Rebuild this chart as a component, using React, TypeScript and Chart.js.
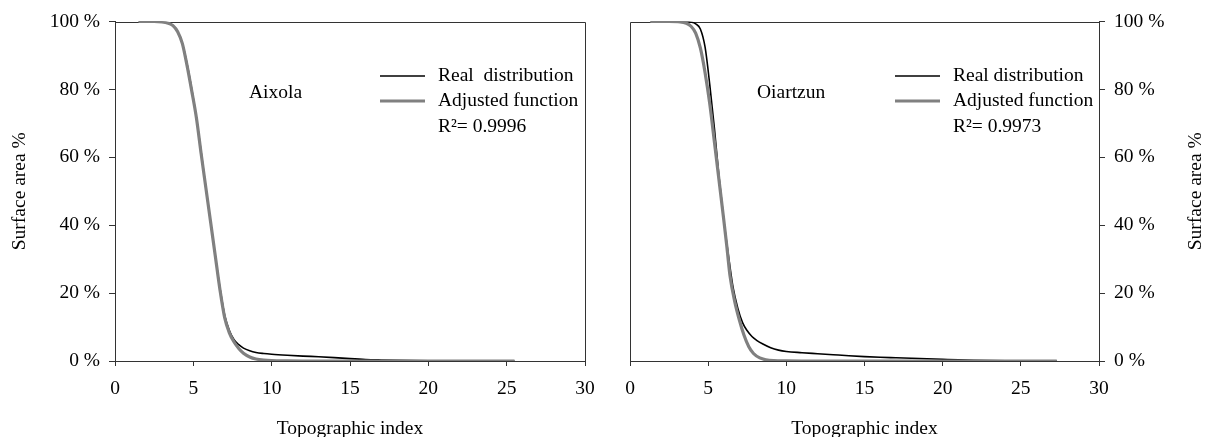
import React, { useEffect, useRef } from "react";
import { Chart, registerables } from "chart.js";

Chart.register(...registerables);

const FONT = "'Liberation Serif', 'Times New Roman', Times, serif";
const FS = 19.5;

// ---- Data (Topographic index, Surface area %) ----
const aixolaRealX = [1.5, 2.5, 3.0, 3.4, 3.7, 4.0, 4.3, 4.6, 4.9, 5.2, 5.5, 5.8, 6.1, 6.4, 6.7, 7.0, 7.3, 7.6, 7.9, 8.2, 8.6, 9.0, 9.5, 10, 11, 12, 13, 14, 15, 16, 17, 18, 20, 22, 25.5];
const aixolaRealY = [100, 100, 99.9, 99.5, 98.8, 97, 93.5, 87.5, 80, 71.5, 61.5, 51, 41, 31, 21.5, 13.5, 9, 6.3, 4.8, 3.8, 3.0, 2.5, 2.2, 2.0, 1.7, 1.45, 1.25, 1.0, 0.7, 0.45, 0.3, 0.18, 0.06, 0.02, 0];
const aixolaFitX = [1.5, 2.5, 3.0, 3.4, 3.7, 4.0, 4.3, 4.6, 4.9, 5.2, 5.5, 5.8, 6.1, 6.4, 6.7, 7.0, 7.3, 7.6, 7.9, 8.2, 8.6, 9.0, 9.5, 10, 11, 12, 25.5];
const aixolaFitY = [100, 100, 99.9, 99.5, 98.8, 97, 93.5, 87, 79.5, 71.5, 61, 51, 41, 31, 21, 12.8, 8.3, 5.6, 3.7, 2.3, 1.2, 0.6, 0.25, 0.1, 0.02, 0, 0];

const oiartzunRealX = [1.3, 2.5, 3.5, 3.9, 4.2, 4.5, 4.8, 5.1, 5.4, 5.7, 6.0, 6.3, 6.6, 6.9, 7.2, 7.5, 7.8, 8.1, 8.5, 9.0, 9.5, 10, 11, 12, 13, 14, 15, 16, 17, 18, 19, 20, 21, 22, 23, 24, 25, 27.3];
const oiartzunRealY = [100, 100, 100, 99.8, 99.3, 97.8, 92.5, 81.5, 68.5, 54, 41.5, 31, 21.5, 15.5, 11.3, 8.9, 7.2, 6.1, 5.0, 3.9, 3.2, 2.8, 2.45, 2.15, 1.85, 1.55, 1.3, 1.1, 0.95, 0.8, 0.65, 0.5, 0.35, 0.22, 0.12, 0.05, 0.02, 0];
const oiartzunFitX = [1.3, 2.5, 3.2, 3.6, 3.9, 4.2, 4.5, 4.8, 5.1, 5.4, 5.7, 6.0, 6.2, 6.4, 6.7, 7.0, 7.3, 7.6, 7.9, 8.3, 8.7, 9.2, 10, 11, 27.3];
const oiartzunFitY = [100, 100, 99.9, 99.5, 98.6, 96.6, 92.2, 85, 75.8, 64.5, 53, 41.5, 33.5, 25, 17.5, 12, 7.5, 4.2, 2.2, 0.9, 0.35, 0.1, 0.02, 0, 0];

// ---- Axes ----
const X_MIN = 0;
const X_MAX = 30;
const X_STEP = 5;
const Y_MIN = 0;
const Y_MAX = 100;
const Y_STEP = 20;

// ---- Texts ----
const X_TITLE = "Topographic index";
const Y_TITLE = "Surface area %";
const SERIES_REAL = "Real distribution";
const SERIES_FIT = "Adjusted function";
const AIXOLA_NAME = "Aixola";
const AIXOLA_REAL_LABEL = "Real  distribution";
const AIXOLA_R2 = "R\u00b2= 0.9996";
const OIARTZUN_NAME = "Oiartzun";
const OIARTZUN_REAL_LABEL = "Real distribution";
const OIARTZUN_R2 = "R\u00b2= 0.9973";

const AXIS_COLOR = "#333333";
const REAL_COLOR = "#000000";
const FIT_COLOR = "#808080";

const toPts = (xs: number[], ys: number[]) => xs.map((x, i) => ({ x, y: ys[i] }));

type PanelOpts = {
  name: string;
  nameDx: number;
  realLabel: string;
  r2: string;
  side: "left" | "right";
  rightTitleX?: number;
};

function annotationPlugin(o: PanelOpts) {
  return {
    id: "panelAnnotations",
    beforeDatasetsDraw(chart: any) {
      const { ctx, chartArea: a } = chart;
      ctx.save();
      ctx.strokeStyle = AXIS_COLOR;
      ctx.lineWidth = 1;
      const l = Math.round(a.left) + 0.5;
      const r = Math.round(a.right) + 0.5;
      const t = Math.round(a.top) + 0.5;
      const b = Math.round(a.bottom) + 0.5;
      ctx.beginPath();
      ctx.moveTo(l, b);
      ctx.lineTo(l, t);
      ctx.lineTo(r, t);
      ctx.lineTo(r, b);
      ctx.stroke();
      ctx.restore();
    },
    afterDraw(chart: any) {
      const { ctx, chartArea: a } = chart;
      ctx.save();
      ctx.font = `${FS}px ${FONT}`;
      ctx.fillStyle = "#000";
      ctx.textBaseline = "middle";
      ctx.textAlign = "left";
      const top = a.top;
      ctx.fillText(o.name, a.left + o.nameDx, top + 71);
      // legend
      const lx0 = a.left + 265;
      const lx1 = a.left + 310;
      const tx = a.left + 323;
      const y1 = top + 54.5;
      const y2 = top + 79.5;
      const y3 = top + 105.5;
      ctx.strokeStyle = REAL_COLOR;
      ctx.lineWidth = 1.6;
      ctx.beginPath();
      ctx.moveTo(lx0, y1);
      ctx.lineTo(lx1, y1);
      ctx.stroke();
      ctx.strokeStyle = FIT_COLOR;
      ctx.lineWidth = 3.2;
      ctx.beginPath();
      ctx.moveTo(lx0, y2);
      ctx.lineTo(lx1, y2);
      ctx.stroke();
      ctx.fillText(o.realLabel, tx, y1);
      ctx.fillText(SERIES_FIT, tx, y2);
      ctx.fillText(o.r2, tx, y3);
      if (o.side === "right" && o.rightTitleX !== undefined) {
        ctx.translate(o.rightTitleX, (a.top + a.bottom) / 2);
        ctx.rotate(-Math.PI / 2);
        ctx.textAlign = "center";
        ctx.fillText(Y_TITLE, 0, 0);
      }
      ctx.restore();
    },
  };
}

function buildConfig(
  real: { x: number; y: number }[],
  fit: { x: number; y: number }[],
  o: PanelOpts,
  yWidth: number,
  pad: any
): any {
  const yTickFont = { family: FONT, size: FS, lineHeight: 1.2 };
  const xTickFont = { family: FONT, size: FS, lineHeight: 1.3 };
  return {
    type: "line",
    data: {
      datasets: [
        {
          label: SERIES_REAL,
          data: real,
          borderColor: REAL_COLOR,
          borderWidth: 1.6,
          pointRadius: 0,
          cubicInterpolationMode: "monotone",
          order: 2,
        },
        {
          label: SERIES_FIT,
          data: fit,
          borderColor: FIT_COLOR,
          borderWidth: 3.2,
          pointRadius: 0,
          cubicInterpolationMode: "monotone",
          order: 1,
        },
      ],
    },
    options: {
      responsive: false,
      animation: false,
      devicePixelRatio: 1,
      layout: { padding: pad },
      plugins: { legend: { display: false }, tooltip: { enabled: false } },
      scales: {
        x: {
          type: "linear",
          min: X_MIN,
          max: X_MAX,
          ticks: { stepSize: X_STEP, color: "#000", font: xTickFont, padding: 10, maxRotation: 0 },
          grid: { drawOnChartArea: false, drawTicks: true, tickLength: 5, color: AXIS_COLOR, lineWidth: 1 },
          border: { display: true, color: AXIS_COLOR, width: 1 },
          title: {
            display: true,
            text: X_TITLE,
            color: "#000",
            font: { family: FONT, size: FS, lineHeight: 1 },
            padding: { top: 0, bottom: -1.5 },
          },
          afterFit: (s: any) => {
            s.height = 76;
          },
        },
        y: {
          type: "linear",
          position: o.side,
          min: Y_MIN,
          max: Y_MAX,
          ticks: {
            stepSize: Y_STEP,
            color: "#000",
            font: yTickFont,
            padding: 9,
            callback: (v: any) => `${v} %`,
          },
          grid: { drawOnChartArea: false, drawTicks: true, tickLength: 6, color: AXIS_COLOR, lineWidth: 1 },
          border: { display: true, color: AXIS_COLOR, width: 1 },
          title: {
            display: o.side === "left",
            text: Y_TITLE,
            color: "#000",
            font: { family: FONT, size: FS, lineHeight: 1 },
            padding: { top: 10, bottom: 0 },
          },
          afterFit: (s: any) => {
            s.width = yWidth;
          },
        },
      },
    },
    plugins: [annotationPlugin(o)],
  };
}

export default function App() {
  const leftRef = useRef<HTMLCanvasElement | null>(null);
  const rightRef = useRef<HTMLCanvasElement | null>(null);

  useEffect(() => {
    document.body.style.margin = "0";
    const charts: Chart[] = [];
    if (leftRef.current) {
      charts.push(
        new Chart(
          leftRef.current,
          buildConfig(
            toPts(aixolaRealX, aixolaRealY),
            toPts(aixolaFitX, aixolaFitY),
            { name: AIXOLA_NAME, nameDx: 134, realLabel: AIXOLA_REAL_LABEL, r2: AIXOLA_R2, side: "left" },
            115,
            { top: 21.5, right: 20, bottom: 0, left: 0 }
          )
        )
      );
    }
    if (rightRef.current) {
      charts.push(
        new Chart(
          rightRef.current,
          buildConfig(
            toPts(oiartzunRealX, oiartzunRealY),
            toPts(oiartzunFitX, oiartzunFitY),
            {
              name: OIARTZUN_NAME,
              nameDx: 127,
              realLabel: OIARTZUN_REAL_LABEL,
              r2: OIARTZUN_R2,
              side: "right",
              rightTitleX: 591,
            },
            106,
            { top: 21.5, right: 0, bottom: 0, left: 25 }
          )
        )
      );
    }
    return () => charts.forEach((c) => c.destroy());
  }, []);

  return (
    <div style={{ position: "absolute", left: 0, top: 0, width: 1205, height: 437, background: "#fff" }}>
      <canvas
        ref={leftRef}
        width={605}
        height={437}
        style={{ position: "absolute", left: 0, top: 0, width: 605, height: 437 }}
      />
      <canvas
        ref={rightRef}
        width={600}
        height={437}
        style={{ position: "absolute", left: 605, top: 0, width: 600, height: 437 }}
      />
    </div>
  );
}
